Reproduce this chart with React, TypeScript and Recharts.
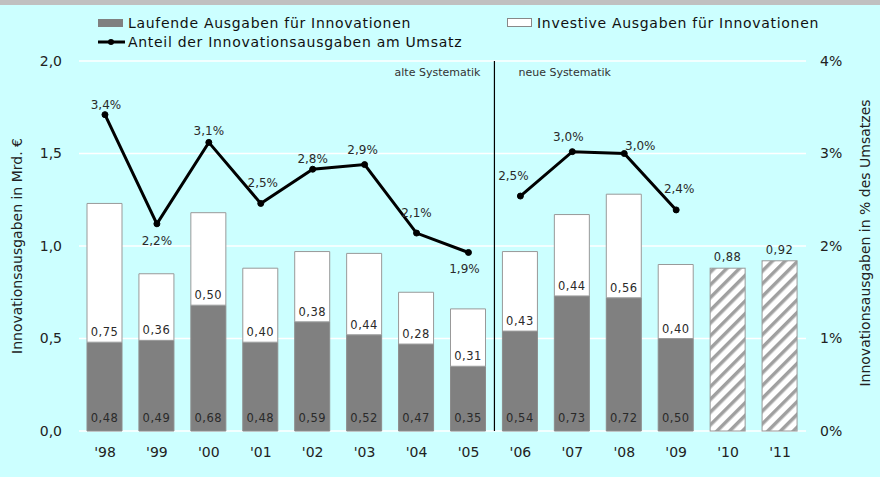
import React from 'react';
import {
  ComposedChart,
  Bar,
  Line,
  XAxis,
  YAxis,
  CartesianGrid,
  ReferenceLine,
  LabelList,
} from 'recharts';

// ---------- data ----------
const years = ["'98", "'99", "'00", "'01", "'02", "'03", "'04", "'05", "'06", "'07", "'08", "'09", "'10", "'11"];
const laufende = [0.48, 0.49, 0.68, 0.48, 0.59, 0.52, 0.47, 0.35, 0.54, 0.73, 0.72, 0.5, null, null];
const investive = [0.75, 0.36, 0.5, 0.4, 0.38, 0.44, 0.28, 0.31, 0.43, 0.44, 0.56, 0.4, null, null];
const prognose = [null, null, null, null, null, null, null, null, null, null, null, null, 0.88, 0.92];
const anteilAlt = [3.42, 2.24, 3.12, 2.46, 2.83, 2.88, 2.14, 1.93, null, null, null, null, null, null];
const anteilNeu = [null, null, null, null, null, null, null, null, 2.54, 3.02, 3.0, 2.39, null, null];
const leftTicks = [0, 0.5, 1, 1.5, 2];
const rightTicks = [0, 1, 2, 3, 4];
const firstNewYear = "'06";

const data = years.map((year, i) => ({
  year,
  laufende: laufende[i],
  investive: investive[i],
  prognose: prognose[i],
  alt: anteilAlt[i],
  neu: anteilNeu[i],
}));

// label placement (style) for percentage labels: [dx, dy] of text centre from point
const pctLabelOffsets: [number, number][] = [
  [1, -10], [0, 17], [0, -12], [2, -21], [0, -11], [-2, -15], [0, -20], [-4, 16],
  [-7, -20], [-4, -15], [16, -8], [3, -21], [0, 0], [0, 0],
];

const FONT = "'DejaVu Sans', Verdana, sans-serif";
const fmt = (v: number, d = 2) => v.toFixed(d).replace('.', ',');

const LaufendeLabel = (p: any) => {
  const { x, y, width, height, value } = p;
  if (value == null) return null;
  return (
    <text x={x + width / 2} y={y + height - 9} textAnchor="middle" fontSize={11.5} letterSpacing={0.5} fill="#2a2a2a">
      {fmt(value)}
    </text>
  );
};

const InvestiveLabel = (p: any) => {
  const { x, y, width, height, value } = p;
  if (value == null) return null;
  return (
    <text x={x + width / 2} y={y + height - 6} textAnchor="middle" fontSize={11.5} letterSpacing={0.5} fill="#2a2a2a">
      {fmt(value)}
    </text>
  );
};

const PrognoseLabel = (p: any) => {
  const { x, y, width, value } = p;
  if (value == null) return null;
  return (
    <text x={x + width / 2} y={y - 7} textAnchor="middle" fontSize={11.5} letterSpacing={0.5} fill="#2a2a2a">
      {fmt(value)}
    </text>
  );
};

const PctLabel = (p: any) => {
  const { x, y, value, index } = p;
  if (value == null || x == null || y == null) return null;
  const [dx, dy] = pctLabelOffsets[index] || [0, -12];
  return (
    <text x={x + dx} y={y + dy + 4.4} textAnchor="middle" fontSize={12} fill="#2a2a2a">
      {fmt(value, 1) + '%'}
    </text>
  );
};

const HatchedBar = (p: any) => {
  const { x, y, width, height } = p;
  if (!height || height <= 0) return null;
  return (
    <g>
      <defs>
        <pattern id="hatch" patternUnits="userSpaceOnUse" width="9" height="9" patternTransform="rotate(45)">
          <rect width="9" height="9" fill="#ffffff" />
          <rect width="3.5" height="9" fill="#a0a0a0" />
        </pattern>
      </defs>
      <rect x={x} y={y} width={width} height={height} fill="url(#hatch)" stroke="#999999" strokeWidth={1} />
    </g>
  );
};

const DividerLabel = (p: any) => {
  const vb = p.viewBox || {};
  const x = vb.x ?? 494;
  const y = vb.y ?? 61;
  return (
    <g>
      <text x={x - 14} y={y + 15} textAnchor="end" fontSize={11} fill="#333">alte Systematik</text>
      <text x={x + 24} y={y + 15} textAnchor="start" fontSize={11} fill="#333">neue Systematik</text>
    </g>
  );
};

export default function App() {
  return (
    <div
      style={{
        position: 'absolute',
        left: 0,
        top: 0,
        width: 880,
        height: 477,
        background: '#ccffff',
        fontFamily: FONT,
        overflow: 'hidden',
      }}
    >
      <div style={{ position: 'absolute', left: 0, top: 0, width: 880, height: 5, background: '#c0c0c0' }} />
      <ComposedChart
        width={880}
        height={477}
        data={data}
        margin={{ top: 61, right: 0, bottom: 16, left: 0 }}
        style={{ position: 'absolute', left: 0, top: 0 }}
      >
        <CartesianGrid yAxisId="left" vertical={false} stroke="#ffffff" strokeWidth={1.5} />
        <XAxis
          dataKey="year"
          axisLine={false}
          tickLine={false}
          tickSize={0}
          tickMargin={16}
          height={30}
          interval={0}
          tick={{ fontSize: 14, fill: '#222' }}
        />
        <YAxis
          yAxisId="left"
          width={79}
          domain={[0, 2]}
          ticks={leftTicks}
          axisLine={false}
          tickLine={false}
          tickSize={0}
          tickMargin={17}
          tickFormatter={(v: number) => fmt(v, 1)}
          tick={{ fontSize: 14, fill: '#222' }}
        />
        <YAxis
          yAxisId="right"
          orientation="right"
          width={74}
          domain={[0, 4]}
          ticks={rightTicks}
          axisLine={false}
          tickLine={false}
          tickSize={0}
          tickMargin={14}
          tickFormatter={(v: number) => v + '%'}
          tick={{ fontSize: 14, fill: '#222', textAnchor: 'start' }}
        />
        <ReferenceLine
          yAxisId="left"
          x={firstNewYear}
          position="start"
          stroke="#000"
          strokeWidth={1.2}
          label={DividerLabel}
        />
        <Bar yAxisId="left" dataKey="laufende" stackId="s" barSize={35} fill="#808080" stroke="#8c8c8c" isAnimationActive={false}>
          <LabelList dataKey="laufende" content={LaufendeLabel} />
        </Bar>
        <Bar yAxisId="left" dataKey="investive" stackId="s" barSize={35} fill="#ffffff" stroke="#999999" isAnimationActive={false}>
          <LabelList dataKey="investive" content={InvestiveLabel} />
        </Bar>
        <Bar yAxisId="left" dataKey="prognose" stackId="s" barSize={35} shape={HatchedBar} isAnimationActive={false}>
          <LabelList dataKey="prognose" content={PrognoseLabel} />
        </Bar>
        <Line
          yAxisId="right"
          dataKey="alt"
          stroke="#000"
          strokeWidth={3}
          dot={{ r: 3, fill: '#000', stroke: '#000', strokeWidth: 1 }}
          activeDot={false}
          connectNulls={false}
          isAnimationActive={false}
        >
          <LabelList dataKey="alt" content={PctLabel} />
        </Line>
        <Line
          yAxisId="right"
          dataKey="neu"
          stroke="#000"
          strokeWidth={3}
          dot={{ r: 3, fill: '#000', stroke: '#000', strokeWidth: 1 }}
          activeDot={false}
          connectNulls={false}
          isAnimationActive={false}
        >
          <LabelList dataKey="neu" content={PctLabel} />
        </Line>
      </ComposedChart>
      {/* legend and axis titles */}
      <svg width={880} height={477} style={{ position: 'absolute', left: 0, top: 0, pointerEvents: 'none' }}>
        <rect x={98} y={19} width={25} height={8} fill="#808080" />
        <text x={128} y={28} fontSize={14} letterSpacing={0.7} fill="#111">Laufende Ausgaben für Innovationen</text>
        <rect x={507.5} y={18.5} width={24} height={8} fill="#ffffff" stroke="#888" />
        <text x={537} y={28} fontSize={14} letterSpacing={0.7} fill="#111">Investive Ausgaben für Innovationen</text>
        <line x1={98} y1={42} x2={125} y2={42} stroke="#000" strokeWidth={3} />
        <circle cx={111} cy={42} r={3} fill="#000" />
        <text x={128} y={47} fontSize={14} letterSpacing={0.7} fill="#111">Anteil der Innovationsausgaben am Umsatz</text>
        <text x={22} y={246} fontSize={14} fill="#222" textAnchor="middle" transform="rotate(-90 22 246)">
          Innovationsausgaben in Mrd. €
        </text>
        <text x={870} y={243} fontSize={14} fill="#222" textAnchor="middle" transform="rotate(-90 870 243)">
          Innovationsausgaben in % des Umsatzes
        </text>
      </svg>
    </div>
  );
}
